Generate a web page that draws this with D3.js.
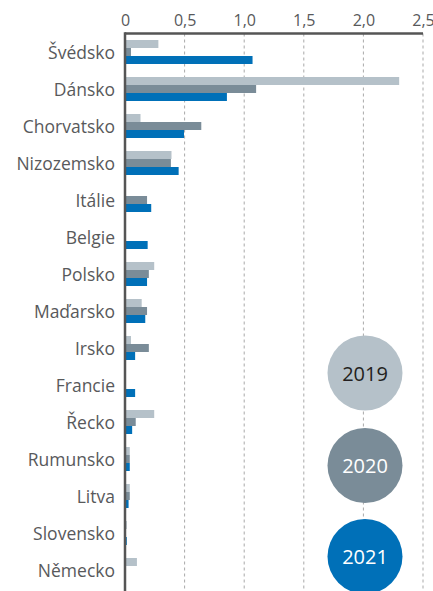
<!DOCTYPE html>
<html>
<head>
<meta charset="utf-8">
<script src="https://cdn.jsdelivr.net/npm/d3@7"></script>
<style>
  body { margin: 0; background: #fff; }
  svg { display: block; }
</style>
</head>
<body>
<svg id="chart" width="433" height="591"></svg>
<script>
var countries = ["Švédsko", "Dánsko", "Chorvatsko", "Nizozemsko", "Itálie", "Belgie", "Polsko",
                 "Maďarsko", "Irsko", "Francie", "Řecko", "Rumunsko", "Litva", "Slovensko", "Německo"];
var years = ["2019", "2020", "2021"];
var values2019 = [0.28, 2.30, 0.13, 0.39, 0, 0, 0.245, 0.14, 0.05, 0, 0.245, 0.04, 0.04, 0.015, 0.10];
var values2020 = [0.05, 1.10, 0.64, 0.385, 0.185, 0, 0.20, 0.185, 0.20, 0, 0.09, 0.04, 0.04, 0, 0];
var values2021 = [1.07, 0.855, 0.495, 0.45, 0.22, 0.19, 0.185, 0.17, 0.085, 0.085, 0.06, 0.04, 0.03, 0.015, 0];
var xTicks = [0, 0.5, 1.0, 1.5, 2.0, 2.5];
var yearColors = ["#b5c1c9", "#7a8c98", "#0070b8"];
var yearTextColors = ["#231f20", "#ffffff", "#ffffff"];

var svg = d3.select("#chart");
var width = +svg.attr("width"), height = +svg.attr("height");
var font = "'Open Sans', 'Noto Sans', sans-serif";

var x0 = 125, x1 = 423, axisY = 33.5;
var x = d3.scaleLinear().domain([0, 2.5]).range([x0, x1]);
var y = d3.scaleBand().domain(countries).range([axisY, axisY + 37 * countries.length]);
var yInner = d3.scaleBand().domain(years).range([6.5, 30.5]);
var color = d3.scaleOrdinal().domain(years).range(yearColors);

var series = [values2019, values2020, values2021];
var rows = [];
countries.forEach(function(c, i) {
  years.forEach(function(yr, j) {
    rows.push({country: c, year: yr, value: series[j][i]});
  });
});

// dashed gridlines
svg.append("g")
   .selectAll("line")
   .data(xTicks.slice(1))
   .enter().append("line")
   .attr("x1", function(d) { return x(d); })
   .attr("x2", function(d) { return x(d); })
   .attr("y1", axisY)
   .attr("y2", height)
   .style("stroke", "#a9a9a9")
   .style("stroke-width", 1)
   .style("stroke-dasharray", "3,3");

// legend circles
var legend = svg.append("g");
var legendY = [373, 465.5, 556.5];
years.forEach(function(yr, j) {
  legend.append("circle")
     .attr("cx", 365)
     .attr("cy", legendY[j])
     .attr("r", 37.5)
     .attr("fill", color(yr));
  legend.append("text")
     .text(yr)
     .attr("x", 365)
     .attr("y", legendY[j] + 7.5)
     .attr("text-anchor", "middle")
     .style("font", "500 20px " + font)
     .style("fill", yearTextColors[j]);
});

// bars
svg.append("g")
   .selectAll("rect")
   .data(rows.filter(function(d) { return d.value > 0; }))
   .enter().append("rect")
   .attr("x", x(0))
   .attr("y", function(d) { return y(d.country) + yInner(d.year); })
   .attr("width", function(d) { return x(d.value) - x(0); })
   .attr("height", yInner.bandwidth())
   .attr("fill", function(d) { return color(d.year); });

// top axis
var axis = d3.axisTop(x)
   .tickValues(xTicks)
   .tickSize(0)
   .tickPadding(8)
   .tickFormat(function(d) { return d === 0 ? "0" : d3.format(".1f")(d).replace(".", ","); });
var gAxis = svg.append("g")
   .attr("transform", "translate(0," + axisY + ")")
   .call(axis);
gAxis.select(".domain").remove();
gAxis.selectAll("text")
   .style("font", "16px " + font)
   .style("fill", "#58595b");

svg.append("line")
   .attr("x1", x0).attr("x2", x1)
   .attr("y1", axisY).attr("y2", axisY)
   .style("stroke", "#555")
   .style("stroke-width", 2.5);
svg.append("line")
   .attr("x1", x0).attr("x2", x0)
   .attr("y1", axisY - 1.25).attr("y2", height)
   .style("stroke", "#555")
   .style("stroke-width", 2.5);

// category labels
svg.append("g")
   .selectAll("text")
   .data(countries)
   .enter().append("text")
   .text(function(d) { return d; })
   .attr("x", 115)
   .attr("y", function(d) { return y(d) + y.bandwidth() / 2 + 6.5; })
   .attr("text-anchor", "end")
   .style("font", "17.5px " + font)
   .style("fill", "#58595b");
</script>
</body>
</html>
